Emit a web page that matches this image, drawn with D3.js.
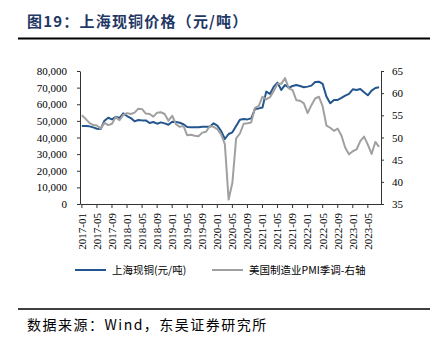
<!DOCTYPE html>
<html><head><meta charset="utf-8">
<script src="https://cdn.jsdelivr.net/npm/d3@7"></script>
<style>body{margin:0;background:#fff;} svg{display:block}</style>
</head><body><svg id="c" width="430" height="347"></svg>
<script>
// Categories: monthly 2017-01 .. 2023-08
const months = d3.timeMonth.range(new Date(2017,0,1), new Date(2023,8,1)).map(d3.timeFormat("%Y-%m"));
const xTickLabels = ["2017-01","2017-05","2017-09","2018-01","2018-05","2018-09","2019-01","2019-05","2019-09","2020-01","2020-05","2020-09","2021-01","2021-05","2021-09","2022-01","2022-05","2022-09","2023-01","2023-05"];
const leftTicks = [0,10000,20000,30000,40000,50000,60000,70000,80000];
const rightTicks = [35,40,45,50,55,60,65];
// 上海现铜 (元/吨)
const copper = [46900,46900,46700,46100,45300,45100,50100,51900,50900,52500,51700,54500,
  52900,51700,49700,50500,50300,50300,48700,49300,48300,49100,48500,47700,
  49500,49300,48900,48000,46300,46100,46100,46100,46500,46500,46500,48500,
  47100,43900,39100,42100,43100,46900,50700,51100,50900,51500,57100,57500,
  58100,67600,66200,70600,73000,68600,71600,70000,71000,71600,71000,70200,
  70600,71200,73400,73600,72200,64600,60600,62600,62600,63800,65200,66200,
  69000,68600,69200,67200,65400,68200,69800,70200];
// 美国制造业PMI季调 (右轴)
const pmi = [55.0,54.2,53.3,52.8,52.7,52.0,53.3,52.8,53.1,54.6,53.9,55.1,
  55.5,55.3,55.6,56.5,56.4,55.4,55.3,54.7,55.6,55.7,55.3,53.8,
  54.9,53.0,52.4,52.6,50.5,50.6,50.4,50.3,51.1,51.3,52.6,52.4,
  51.9,50.7,48.5,36.0,39.8,49.8,50.9,53.1,53.2,53.4,56.7,57.1,
  59.2,58.6,59.1,60.5,62.1,62.1,63.4,61.1,60.7,58.4,58.3,57.7,
  55.5,57.3,58.8,59.2,57.0,52.7,52.2,51.5,52.0,50.4,47.7,46.2,
  46.9,47.3,49.2,50.2,48.4,46.3,49.0,47.9];
const seriesNames = ["上海现铜(元/吨)","美国制造业PMI季调-右轴"];
const colors = ["#23568f","#a0a0a0"];

const svg = d3.select("#c");
const serif = "'Liberation Serif','Times New Roman',serif";
const cjk = "'Noto Sans CJK SC','Liberation Serif',serif";

// title
svg.append("text").attr("x",27).attr("y",27).attr("font-family",cjk).attr("font-weight","bold")
  .attr("font-size",15).attr("letter-spacing",1.2).attr("fill","#1f3864").text("图19：上海现铜价格（元/吨）");
svg.append("line").attr("x1",18).attr("x2",430).attr("y1",38.5).attr("y2",38.5).attr("stroke","#000").attr("stroke-width",2);

const x = d3.scaleBand().domain(months).range([80,381]);
const yL = d3.scaleLinear().domain([0,80000]).range([204,71]);
const yR = d3.scaleLinear().domain([35,65]).range([204,71]);
const cx = m => x(m) + x.bandwidth()/2;

function styleAxis(g){
  g.select(".domain").attr("stroke","#333");
  g.selectAll(".tick line").attr("stroke","#333");
  g.selectAll("text").attr("font-family",serif).attr("font-size",11).attr("fill","#000");
}
svg.append("g").attr("transform","translate(80,0)")
  .call(d3.axisLeft(yL).tickValues(leftTicks).tickSize(3).tickSizeOuter(0).tickPadding(10).tickFormat(d3.format(",")))
  .call(styleAxis);
svg.append("g").attr("transform","translate(381,0)")
  .call(d3.axisRight(yR).tickValues(rightTicks).tickSize(3).tickSizeOuter(0).tickPadding(8))
  .call(styleAxis);
const gx = svg.append("g").attr("transform","translate(0,204)")
  .call(d3.axisBottom(x).tickValues(xTickLabels).tickSize(4).tickSizeOuter(0))
  .call(styleAxis);
gx.selectAll("text").attr("transform","rotate(-90)").attr("text-anchor","end")
  .attr("x",-9).attr("y",0).attr("dy","0.35em");

const line = (vals, y) => d3.line().x((d,i)=>cx(months[i])).y(d=>y(d))(vals);
svg.append("path").attr("d",line(copper,yL)).attr("fill","none").attr("stroke",colors[0]).attr("stroke-width",2).attr("stroke-linejoin","round");
svg.append("path").attr("d",line(pmi,yR)).attr("fill","none").attr("stroke",colors[1]).attr("stroke-width",2).attr("stroke-linejoin","round");

// legend
const leg = [{x:75,name:seriesNames[0],c:colors[0]},{x:212,name:seriesNames[1],c:colors[1]}];
leg.forEach(l=>{
  svg.append("line").attr("x1",l.x).attr("x2",l.x+31).attr("y1",270).attr("y2",270).attr("stroke",l.c).attr("stroke-width",2);
  svg.append("text").attr("x",l.x+37).attr("y",274).attr("font-family",cjk).attr("font-size",10.5).attr("fill","#000").text(l.name);
});

// footer
svg.append("line").attr("x1",18).attr("x2",430).attr("y1",309).attr("y2",309).attr("stroke","#000").attr("stroke-width",1.5);
svg.append("text").attr("x",27).attr("y",330).attr("font-family",cjk).attr("font-size",14).attr("letter-spacing",1.5).attr("fill","#000").text("数据来源：Wind，东吴证券研究所");
</script></body></html>
